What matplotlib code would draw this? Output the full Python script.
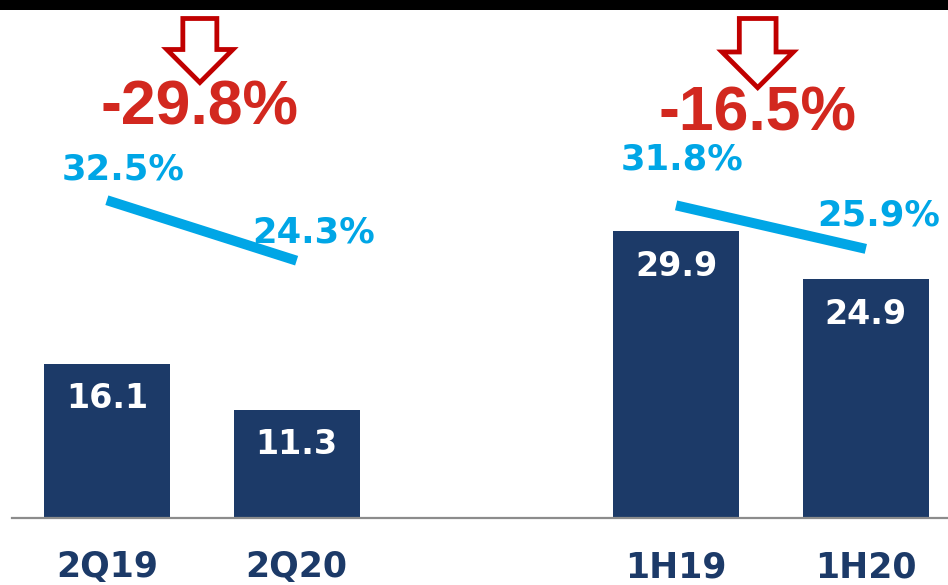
import matplotlib.pyplot as plt
from matplotlib.patches import Polygon, Rectangle
from matplotlib.transforms import ScaledTranslation, blended_transform_factory


# net income (bars) and net margin (line) per period
periods = ["2Q19", "2Q20", "1H19", "1H20"]
net_income = [16.1, 11.3, 29.9, 24.9]
margin_pct = [32.5, 24.3, 31.8, 25.9]
change_labels = ["-29.8%", "-16.5%"]

xpos = [0, 1, 3, 4]
groups = [(0, 1), (2, 3)]

NAVY = "#1c3a68"
SKY = "#00a6e6"
RED_TXT = "#d2281f"
RED_ARROW = "#c00000"

PX = 0.72  # points per pixel at dpi 100

fig = plt.figure(figsize=(9.48, 5.85), dpi=100)
fig.patch.set_facecolor("white")
ax = fig.add_axes([12 / 948, 67 / 585, 936 / 948, 508 / 585])
ax.set_xlim(-0.5, 4.433)
ax.set_ylim(0, 53.0)

ax.bar(xpos, net_income, width=0.663, color=NAVY, zorder=2)

for spine in ["top", "left", "right"]:
    ax.spines[spine].set_visible(False)
ax.spines["bottom"].set_color("#8c8c8c")
ax.spines["bottom"].set_linewidth(1.6)
ax.set_xticks([])
ax.set_yticks([])

# values inside bars
for x, v in zip(xpos, net_income):
    ax.annotate(f"{v:.1f}", (x, v), xytext=(0, -35 * PX), textcoords="offset points",
                ha="center", va="center", color="white", fontsize=24,
                fontweight="bold", family="DejaVu Sans", zorder=4)

# period labels under the axis
for x, name in zip(xpos, periods):
    ax.annotate(name, (x, 0), xycoords=("data", "axes fraction"),
                xytext=(0, -49 * PX), textcoords="offset points",
                ha="center", va="center", color=NAVY, fontsize=25,
                fontweight="bold", family="DejaVu Sans")

# margin line on its own scale
ax2 = ax.twinx()
ax2.set_ylim(-10.6, 58.3)
ax2.axis("off")
label_offsets = [(16, 31), (17, 28), (6, 46), (13, 33)]
for i0, i1 in groups:
    ax2.plot([xpos[i0], xpos[i1]], [margin_pct[i0], margin_pct[i1]],
             color=SKY, lw=10 * PX, solid_capstyle="butt", zorder=3)
for x, p, (dx, dy) in zip(xpos, margin_pct, label_offsets):
    ax2.annotate(f"{p:.1f}%", (x, p), xytext=(dx * PX, dy * PX),
                 textcoords="offset points", ha="center", va="center",
                 color=SKY, fontsize=25.5, fontweight="bold",
                 family="DejaVu Sans", zorder=5)

# change labels with hollow down arrows
change_x = [0.49, 3.43]
change_y = [0.807, 0.796]
arrow_scale = [1.0, 1.08]
shape = [(-17, 0), (17, 0), (17, -31), (33, -31), (0, -64), (-33, -31), (-17, -31)]
anchor = blended_transform_factory(ax.transData, fig.transFigure)
for label, cx, cy, s in zip(change_labels, change_x, change_y, arrow_scale):
    ax.annotate(label, (cx, cy), xycoords=("data", "axes fraction"),
                ha="center", va="center", color=RED_TXT, fontsize=45,
                fontweight="bold", family="Liberation Sans")
    verts = [(vx * s / 100, vy * s / 100) for vx, vy in shape]
    tr = fig.dpi_scale_trans + ScaledTranslation(cx, 1 - 18.5 / 585, anchor)
    arrow = Polygon(verts, closed=True, facecolor="white", edgecolor=RED_ARROW,
                    lw=4.8 * PX, transform=tr, joinstyle="miter")
    fig.patches.append(arrow)

# black band along the top edge
fig.patches.append(Rectangle((0, 1 - 10 / 585), 1, 10 / 585, transform=fig.transFigure,
                             facecolor="black", edgecolor="none"))

fig.savefig("out.png", dpi=100)
